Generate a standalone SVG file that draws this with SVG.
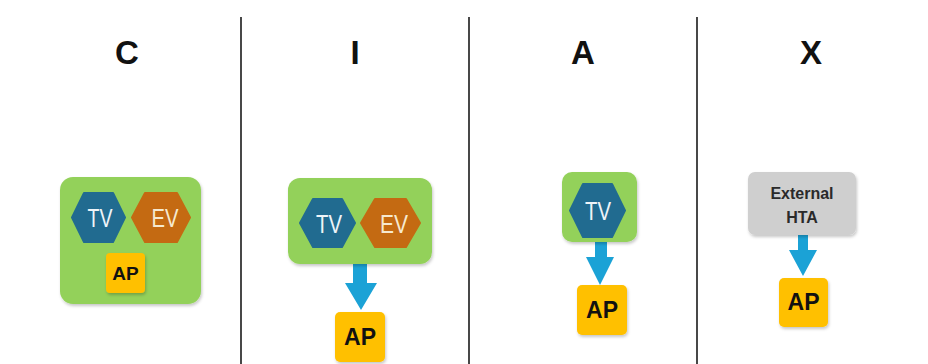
<svg xmlns="http://www.w3.org/2000/svg" width="928" height="364" viewBox="0 0 928 364">
  <defs>
    <filter id="soft" x="-10%" y="-10%" width="125%" height="130%">
      <feDropShadow dx="1" dy="2" stdDeviation="1.5" flood-color="#000" flood-opacity="0.22"/>
    </filter>
    <style>
      .divider { stroke: #1a1a1a; stroke-width: 1.6; }
      .head { font-family: "Liberation Sans", Arial, sans-serif; font-weight: bold; font-size: 33px; fill: #111; text-anchor: middle; }
      .group { fill: #93d15a; filter: url(#soft); }
      .ext { fill: #cfcfcf; filter: url(#soft); }
      .tv { fill: #216b90; stroke: #216b90; stroke-width: 2; stroke-linejoin: round; }
      .ev { fill: #c46a12; stroke: #c46a12; stroke-width: 2; stroke-linejoin: round; }
      .ap { fill: #ffc000; filter: url(#soft); }
      .hex-label { font-family: "Liberation Sans", Arial, sans-serif; font-size: 26px; text-anchor: middle; }
      .tv-label { fill: #eef4f8; }
      .ev-label { fill: #f6e9cf; }
      .ap-label { font-family: "Liberation Sans", Arial, sans-serif; font-weight: bold; fill: #111; text-anchor: middle; }
      .ext-label { font-family: "Liberation Sans", Arial, sans-serif; font-weight: bold; font-size: 16px; fill: #2a2a2a; text-anchor: middle; }
      .arrow { fill: #1ba2d6; }
    </style>
  </defs>

  <rect width="928" height="364" fill="#ffffff"/>

  <!-- column dividers -->
  <g id="dividers">
    <line class="divider" x1="241" y1="17" x2="241" y2="364"/>
    <line class="divider" x1="469" y1="17" x2="469" y2="364"/>
    <line class="divider" x1="697" y1="17" x2="697" y2="364"/>
  </g>

  <!-- column headings -->
  <g id="headings">
    <text class="head" x="127" y="64">C</text>
    <text class="head" x="355" y="64">I</text>
    <text class="head" x="583" y="64">A</text>
    <text class="head" x="811" y="64">X</text>
  </g>

  <!-- connectors -->
  <g id="connectors">
    <polygon class="arrow" points="353,264 367,264 367,283 377,283 361,310 345,283 353,283"/>
    <polygon class="arrow" points="595,242 607,242 607,257 614,257 600,285 586,257 595,257"/>
    <polygon class="arrow" points="798,235 808,235 808,250 817,250 803,276 789,250 798,250"/>
  </g>

  <!-- column C: combined group -->
  <g id="node-c-group">
    <rect class="group" x="60" y="177" width="141" height="127" rx="13"/>
  </g>
  <g id="node-c-tv">
    <polygon class="tv" points="72,217.5 84,193 113,193 125,217.5 113,242 84,242"/>
    <text class="hex-label tv-label" x="100" y="227" textLength="25" lengthAdjust="spacingAndGlyphs">TV</text>
  </g>
  <g id="node-c-ev">
    <polygon class="ev" points="132,217.5 145,193 177,193 190,217.5 177,242 145,242"/>
    <text class="hex-label ev-label" x="165" y="227" textLength="27" lengthAdjust="spacingAndGlyphs">EV</text>
  </g>
  <g id="node-c-ap">
    <rect class="ap" x="106" y="253" width="39" height="40" rx="4"/>
    <text class="ap-label" x="125.5" y="280" font-size="19">AP</text>
  </g>

  <!-- column I -->
  <g id="node-i-group">
    <rect class="group" x="288" y="178" width="144" height="86" rx="12"/>
  </g>
  <g id="node-i-tv">
    <polygon class="tv" points="300,223 313,199 342,199 355,223 342,247 313,247"/>
    <text class="hex-label tv-label" x="329" y="233" textLength="26" lengthAdjust="spacingAndGlyphs">TV</text>
  </g>
  <g id="node-i-ev">
    <polygon class="ev" points="361,223 375,199 406,199 420,223 406,247 375,247"/>
    <text class="hex-label ev-label" x="394" y="233" textLength="28" lengthAdjust="spacingAndGlyphs">EV</text>
  </g>
  <g id="node-i-ap">
    <rect class="ap" x="335" y="312" width="50" height="50" rx="5"/>
    <text class="ap-label" x="360" y="345" font-size="23">AP</text>
  </g>

  <!-- column A -->
  <g id="node-a-group">
    <rect class="group" x="562" y="172" width="75" height="70" rx="10"/>
  </g>
  <g id="node-a-tv">
    <polygon class="tv" points="570,210.5 583,184 612,184 625,210.5 612,237 583,237"/>
    <text class="hex-label tv-label" x="598" y="220" textLength="26" lengthAdjust="spacingAndGlyphs">TV</text>
  </g>
  <g id="node-a-ap">
    <rect class="ap" x="577" y="285" width="50" height="50" rx="5"/>
    <text class="ap-label" x="602" y="318" font-size="23">AP</text>
  </g>

  <!-- column X -->
  <g id="node-x-hta">
    <rect class="ext" x="748" y="172" width="108" height="63" rx="7"/>
    <text class="ext-label" x="802" y="199">External</text>
    <text class="ext-label" x="802" y="223">HTA</text>
  </g>
  <g id="node-x-ap">
    <rect class="ap" x="779" y="278" width="49" height="49" rx="5"/>
    <text class="ap-label" x="803.5" y="310" font-size="23">AP</text>
  </g>
</svg>
